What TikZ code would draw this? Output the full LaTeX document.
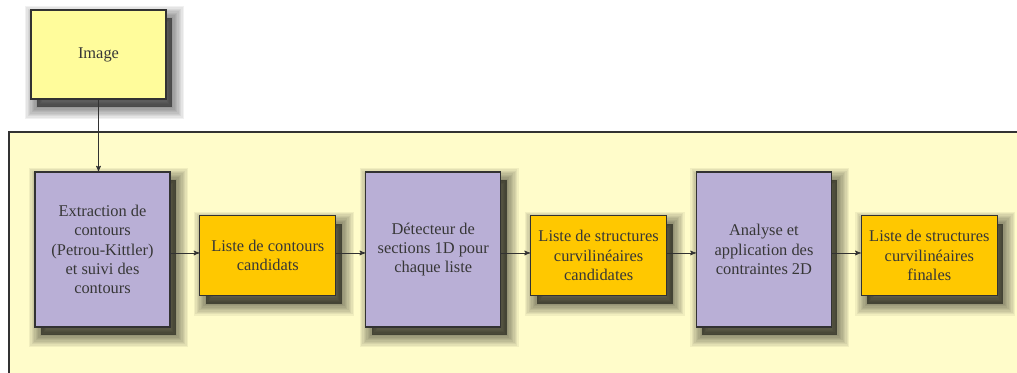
\documentclass[tikz,border=0pt]{standalone}
\usepackage{fontspec}
\setmainfont[Ligatures=TeX]{Liberation Serif}
\usetikzlibrary{positioning,shapes,arrows,shadows}

\definecolor{imageyellow}{RGB}{255,252,155}
\definecolor{paleyellow}{RGB}{255,252,202}
\definecolor{steppurple}{RGB}{185,175,214}
\definecolor{listorange}{RGB}{255,200,0}
\definecolor{edgegrey}{RGB}{50,50,50}
\definecolor{textgrey}{RGB}{55,55,55}

\begin{document}
\begin{tikzpicture}[x=0.75pt,y=-0.75pt,
    font=\rmfamily\fontsize{12.3}{14.4}\selectfont,text=textgrey,
    node distance=21.6pt,
    shadow layer/.style={general shadow={shadow xshift=4.5pt,shadow yshift=-6pt,fill=black,draw=black,line width=#1,opacity=0.055}},
    soft shadow/.style={
        shadow layer=18pt,shadow layer=16pt,shadow layer=14pt,shadow layer=12pt,shadow layer=10pt,
        shadow layer=8pt,shadow layer=6pt,shadow layer=4pt,shadow layer=2pt,
        general shadow={shadow xshift=4.5pt,shadow yshift=-6pt,fill=black,draw=none,opacity=0.2}},
    block/.style={rectangle,draw=edgegrey,line width=0.8pt,align=center,inner sep=2pt,soft shadow},
    stage/.style={block,fill=steppurple,minimum width=101.25pt,minimum height=116.25pt},
    liste/.style={block,fill=listorange,minimum width=102pt,minimum height=60pt},
    flow/.style={draw=edgegrey,line width=0.6pt,-stealth'}]
    \useasboundingbox (0,0) rectangle (1017,372);
    \clip (0,0) rectangle (1017,372);
    % cadre du traitement
    \draw[draw=edgegrey,line width=0.8pt,fill=paleyellow] (9,132) rectangle (1040,400);
    % entree
    \node[block,fill=imageyellow,minimum width=101.25pt,minimum height=66.75pt] (image) at (98.5,54.5) {Image};
    % chaine de traitement
    \node[stage] (extraction) at (102.5,249.5) {Extraction de\\contours\\(Petrou-Kittler)\\et suivi des\\contours};
    \node[liste,right=of extraction,yshift=-4.5pt] (contours) {Liste de contours\\candidats};
    \node[stage,right=of contours,yshift=4.5pt] (detecteur) {D\'etecteur de\\sections 1D pour\\chaque liste};
    \node[liste,right=of detecteur,yshift=-4.5pt] (candidates) {Liste de structures\\curvilin\'eaires\\candidates};
    \node[stage,right=of candidates,yshift=4.5pt] (analyse) {Analyse et\\application des\\contraintes 2D};
    \node[liste,right=of analyse,yshift=-4.5pt] (finales) {Liste de structures\\curvilin\'eaires\\finales};
    % connexions
    \draw[flow] (image.south) -- (image.south |- extraction.north);
    \draw[flow] ([yshift=-2.6pt]extraction.east) -- ([yshift=-2.6pt]extraction.east -| contours.west);
    \draw[flow] ([yshift=1.9pt]contours.east) -- ([yshift=1.9pt]contours.east -| detecteur.west);
    \draw[flow] ([yshift=-2.6pt]detecteur.east) -- ([yshift=-2.6pt]detecteur.east -| candidates.west);
    \draw[flow] ([yshift=1.9pt]candidates.east) -- ([yshift=1.9pt]candidates.east -| analyse.west);
    \draw[flow] ([yshift=-2.6pt]analyse.east) -- ([yshift=-2.6pt]analyse.east -| finales.west);
\end{tikzpicture}
\end{document}
